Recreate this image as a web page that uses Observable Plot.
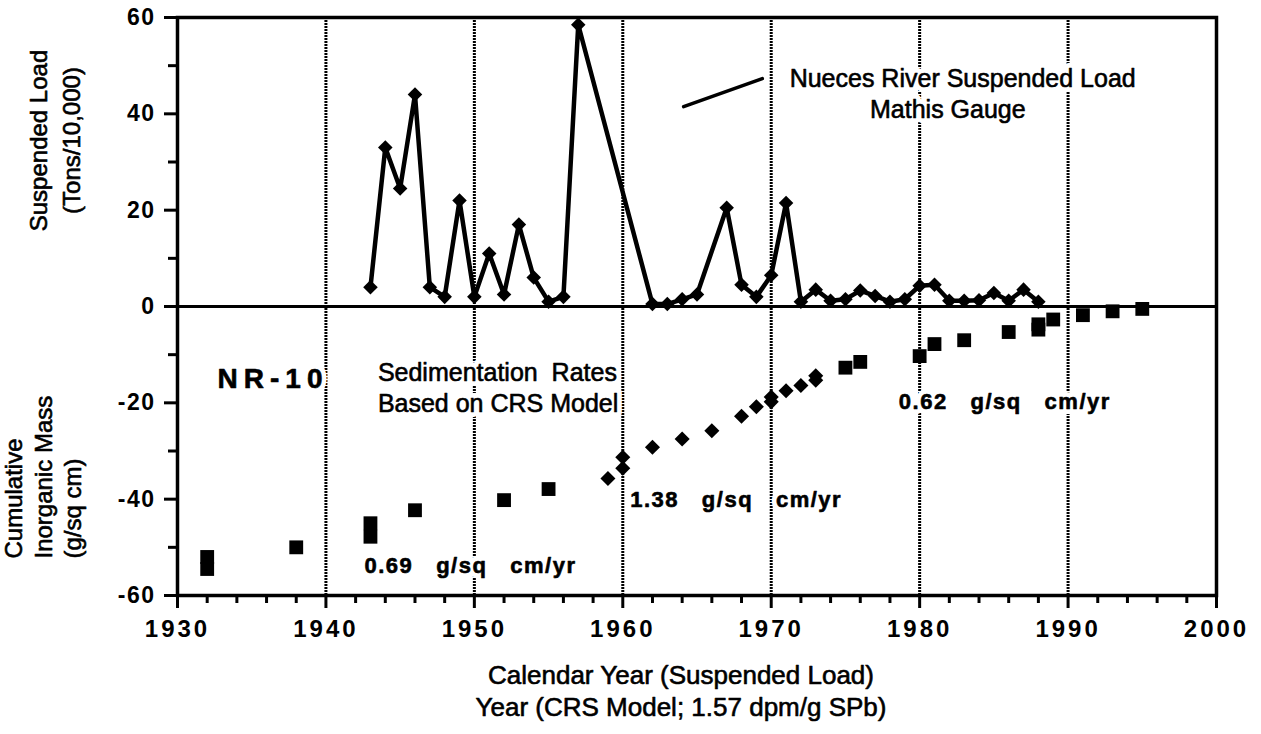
<!DOCTYPE html>
<html>
<head>
<meta charset="utf-8">
<script src="https://cdn.jsdelivr.net/npm/d3@7"></script>
<script src="https://cdn.jsdelivr.net/npm/@observablehq/plot@0.6"></script>
<style>
  html, body { margin: 0; padding: 0; background: #fff; }
  g[aria-label="x-axis tick label"] text { letter-spacing: 3px; }
  g[aria-label="y-axis tick label"] text { letter-spacing: 1.5px; }
</style>
</head>
<body>
<div id="chart"></div>
<script>
// Nueces River suspended load, Mathis gauge (tons/10,000)
const loadYears  = [1943,1944,1945,1946,1947,1948,1949,1950,1951,1952,1953,1954,1955,1956,1957,
                    1962,1963,1964,1965,1967,1968,1969,1970,1971,1972,1973,1974,1975,1976,1977,
                    1978,1979,1980,1981,1982,1983,1984,1985,1986,1987,1988];
const loadValues = [4,33,24.5,44,4,2,22,2,11,2.5,17,6,1,2,58.5,
                    0.5,0.5,1.5,2.5,20.5,4.5,2,6.5,21.5,1,3.5,1.2,1.5,3.3,2.2,
                    1,1.5,4.3,4.5,1.2,1.2,1.3,2.8,1.2,3.5,1];

// Cumulative inorganic mass (g/sq cm), CRS model — square markers
const crsSquareYears  = [1932,1932,1938,1943,1943,1946,1952,1955,1975,1976,1980,1981,1983,1986,1988,1988,1989,1991,1993,1995];
const crsSquareValues = [-52,-54.5,-50,-45,-47.8,-42.3,-40.2,-37.9,-12.7,-11.5,-10.3,-7.8,-7,-5.3,-3.7,-4.8,-2.7,-1.8,-1,-0.5];

// Cumulative inorganic mass (g/sq cm), CRS model — diamond markers
const crsDiamondYears  = [1959,1960,1960,1962,1964,1966,1968,1969,1970,1970,1971,1972,1973,1973];
const crsDiamondValues = [-35.7,-31.3,-33.6,-29.2,-27.5,-25.8,-22.8,-20.8,-18.8,-19.8,-17.5,-16.4,-14.4,-15.3];

// Axis ticks
const xMajorTicks = [1930,1940,1950,1960,1970,1980,1990,2000];
const xMinorTicks = [1932,1934,1936,1938,1942,1944,1946,1948,1952,1954,1956,1958,1962,1964,1966,1968,
                     1972,1974,1976,1978,1982,1984,1986,1988,1992,1994,1996,1998];
const yMajorTicks = [-60,-40,-20,0,20,40,60];
const yMinorTicks = [-50,-30,-10,10,30,50];
const gridYears   = [1940,1950,1960,1970,1980,1990];

// Text
const gaugeLines   = ["Nueces River Suspended Load", "Mathis Gauge"];
const gaugeLabelX  = [1982.9, 1981.9];
const gaugeLabelY  = [47.3, 40.7];
const leaderX      = [1964.1, 1969.4];
const leaderY      = [41.5, 47.3];
const coreName     = ["NR-10"];
const modelLines   = ["Sedimentation\u00a0\u00a0Rates", "Based on CRS Model"];
const modelLabelY  = [-13.9, -20.3];
const rateLabels   = ["0.69\u00a0\u00a0\u00a0g/sq\u00a0\u00a0\u00a0cm/yr", "1.38\u00a0\u00a0\u00a0g/sq\u00a0\u00a0\u00a0cm/yr", "0.62\u00a0\u00a0\u00a0g/sq\u00a0\u00a0\u00a0cm/yr"];
const rateLabelX   = [1942.6, 1960.5, 1978.6];
const rateLabelY   = [-53.8, -40.1, -19.9];
const xTitleLines  = ["Calendar Year (Suspended Load)", "Year (CRS Model; 1.57 dpm/g SPb)"];
const yTitleTop    = ["Suspended Load", "(Tons/10,000)"];
const yTitleBottom = ["Cumulative", "Inorganic Mass", "(g/sq cm)"];

const load = loadYears.map((year, i) => ({year, value: loadValues[i]}));
const squares = crsSquareYears.map((year, i) => ({year, value: crsSquareValues[i]}));
const diamonds = crsDiamondYears.map((year, i) => ({year, value: crsDiamondValues[i]}));
const gauge = gaugeLines.map((text, i) => ({text, x: gaugeLabelX[i], y: gaugeLabelY[i]}));
const leader = leaderX.map((x, i) => ({x, y: leaderY[i]}));
const model = modelLines.map((text, i) => ({text, x: 1943.5, y: modelLabelY[i]}));
const rates = rateLabels.map((text, i) => ({text, x: rateLabelX[i], y: rateLabelY[i]}));
const core = coreName.map(text => ({text, x: 1932.7, y: -15.15}));

const FONT = "'Liberation Sans', Arial, Helvetica, sans-serif";
const halo = {stroke: "white", strokeWidth: 10, fill: "white"};
const ink = {stroke: "black", strokeWidth: 0.6, fill: "black"};

// annotation drawn twice: a white halo layer (gaps the grid) and an ink layer
function label(data, opts) {
  return [
    Plot.text(data, {x: "x", y: "y", text: "text", ...opts, ...halo}),
    Plot.text(data, {x: "x", y: "y", text: "text", ...opts, ...ink})
  ];
}

const chart = Plot.plot({
  width: 1261,
  height: 734,
  marginLeft: 177,
  marginRight: 45,
  marginTop: 17,
  marginBottom: 139,
  style: {fontFamily: FONT, background: "white", color: "black"},
  x: {domain: [1930, 2000]},
  y: {domain: [-60, 60]},
  marks: [
    Plot.ruleX(gridYears, {stroke: "black", strokeWidth: 3, strokeDasharray: "2,1"}),
    ...label(gauge, {fontSize: 25, textAnchor: "middle"}),
    ...label(core, {fontSize: 28, fontWeight: "bold", textAnchor: "start"}),
    ...label(model, {fontSize: 25, textAnchor: "start"}),
    ...label(rates, {fontSize: 22, fontWeight: "bold", textAnchor: "start"}),
    Plot.ruleY([0], {stroke: "black", strokeWidth: 3}),
    Plot.frame({stroke: "black", strokeWidth: 3.5}),
    Plot.axisX({ticks: xMinorTicks, tickSize: 8, strokeWidth: 3, tickFormat: () => "", label: null}),
    Plot.axisX({ticks: xMajorTicks, tickSize: 13, strokeWidth: 3, tickPadding: 11, tickFormat: d => String(d),
                fontSize: 24, fontWeight: "bold", label: null}),
    Plot.axisY({ticks: yMinorTicks, tickSize: 9, strokeWidth: 3, tickFormat: () => "", label: null}),
    Plot.axisY({ticks: yMajorTicks, tickSize: 13, strokeWidth: 3, tickPadding: 9, tickFormat: d => String(d),
                fontSize: 23, fontWeight: "bold", label: null}),
    Plot.line(leader, {x: "x", y: "y", stroke: "black", strokeWidth: 3.5}),
    Plot.line(load, {x: "year", y: "value", stroke: "black", strokeWidth: 4.5, strokeLinejoin: "round"}),
    Plot.dot(load, {x: "year", y: "value", symbol: "square", rotate: 45, r: 5.8, fill: "black", stroke: "none"}),
    Plot.dot(squares, {x: "year", y: "value", symbol: "square", r: 7.8, fill: "black", stroke: "none"}),
    Plot.dot(diamonds, {x: "year", y: "value", symbol: "square", rotate: 45, r: 6, fill: "black", stroke: "none"}),
    // axis titles
    Plot.text([xTitleLines[0]], {frameAnchor: "bottom", dx: -16, dy: 88, text: d => d, fontSize: 26, ...ink}),
    Plot.text([xTitleLines[1]], {frameAnchor: "bottom", dx: -16, dy: 120, text: d => d, fontSize: 26, ...ink}),
    Plot.text([yTitleTop[0]], {frameAnchor: "top-left", dx: -148, dy: 123, rotate: -90, text: d => d, fontSize: 24, textAnchor: "middle", ...ink}),
    Plot.text([yTitleTop[1]], {frameAnchor: "top-left", dx: -115, dy: 123, rotate: -90, text: d => d, fontSize: 24, textAnchor: "middle", ...ink}),
    Plot.text([yTitleBottom[0]], {frameAnchor: "bottom-left", dx: -156, dy: -37, rotate: -90, text: d => d, fontSize: 24, textAnchor: "start", ...ink}),
    Plot.text([yTitleBottom[1]], {frameAnchor: "bottom-left", dx: -126, dy: -37, rotate: -90, text: d => d, fontSize: 24, textAnchor: "start", ...ink}),
    Plot.text([yTitleBottom[2]], {frameAnchor: "bottom-left", dx: -97, dy: -37, rotate: -90, text: d => d, fontSize: 24, textAnchor: "start", ...ink})
  ]
});

// letter spacing for the spaced-out labels
d3.select(chart).selectAll("text").each(function () {
  const t = this.textContent;
  if (coreName.includes(t)) this.style.letterSpacing = "6px";
  else if (rateLabels.includes(t)) this.style.letterSpacing = "1.5px";
});

document.getElementById("chart").appendChild(chart);
</script>
</body>
</html>
